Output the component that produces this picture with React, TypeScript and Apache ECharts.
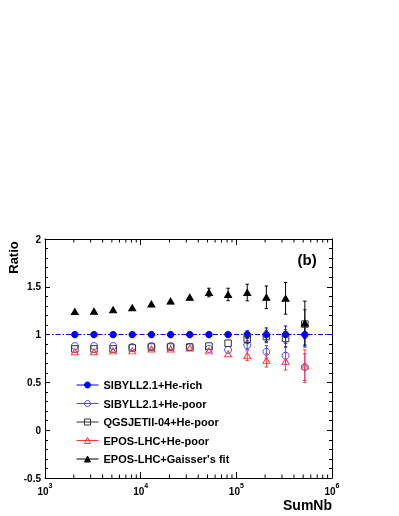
import React, { useEffect, useRef } from 'react';
import * as echarts from 'echarts';

// SumNb bin centres
const sumNb = [2050, 3250, 5150, 8170, 12950, 20550, 32600, 51700, 82000, 130000, 206000, 327000, 520000];

const heRich = [1, 1, 1, 1, 1, 1, 1, 1, 1, 1, 1, 1, 1];
const heRichErr = [0.003, 0.003, 0.004, 0.005, 0.006, 0.008, 0.01, 0.015, 0.025, 0.04, 0.07, 0.09, 0.13];

const hePoor = [0.88, 0.88, 0.88, 0.87, 0.88, 0.88, 0.87, 0.85, 0.84, 0.89, 0.82, 0.78, 0.66];
const hePoorErr = [0.004, 0.004, 0.005, 0.006, 0.007, 0.009, 0.012, 0.018, 0.03, 0.045, 0.065, 0.09, 0.14];

const qgsPoor = [0.85, 0.85, 0.85, 0.86, 0.87, 0.87, 0.87, 0.88, 0.91, 0.95, 0.98, 0.96, 1.11];
const qgsPoorErr = [0.004, 0.004, 0.005, 0.006, 0.007, 0.009, 0.012, 0.018, 0.03, 0.045, 0.065, 0.09, 0.15];

const eposPoor = [0.82, 0.82, 0.83, 0.83, 0.85, 0.85, 0.86, 0.83, 0.8, 0.78, 0.73, 0.72, 0.67];
const eposPoorErr = [0.004, 0.004, 0.005, 0.006, 0.007, 0.009, 0.012, 0.018, 0.03, 0.05, 0.07, 0.09, 0.17];

const gaisser = [1.24, 1.245, 1.26, 1.28, 1.32, 1.35, 1.39, 1.44, 1.42, 1.44, 1.39, 1.38, 1.12];
const gaisserErr = [0.006, 0.006, 0.008, 0.01, 0.012, 0.015, 0.02, 0.045, 0.065, 0.087, 0.118, 0.166, 0.23];

const seriesNames = [
  'SIBYLL2.1+He-rich',
  'SIBYLL2.1+He-poor',
  'QGSJETII-04+He-poor',
  'EPOS-LHC+He-poor',
  "EPOS-LHC+Gaisser's fit",
];

const xMinorTicks = [
  2000, 3000, 4000, 5000, 6000, 7000, 8000, 9000,
  20000, 30000, 40000, 50000, 60000, 70000, 80000, 90000,
  200000, 300000, 400000, 500000, 600000, 700000, 800000, 900000,
];

const FONT = 'Liberation Sans, Arial, Helvetica, sans-serif';

function errSeries(vals: number[], errs: number[], color: string) {
  return {
    type: 'custom',
    xAxisIndex: 0,
    yAxisIndex: 0,
    silent: true,
    z: 2,
    encode: { x: 0, y: 1 },
    data: sumNb.map((x, i) => [x, vals[i], errs[i]]),
    renderItem: (params: any, api: any) => {
      const x = api.value(0);
      const y = api.value(1);
      const e = api.value(2);
      const t = api.coord([x, y + e]);
      const b = api.coord([x, y - e]);
      if (Math.abs(b[1] - t[1]) < 7) return null;
      const cap = 1.7;
      const st = { stroke: color, lineWidth: 1 };
      return {
        type: 'group',
        children: [
          { type: 'line', shape: { x1: t[0], y1: t[1], x2: b[0], y2: b[1] }, style: st },
          { type: 'line', shape: { x1: t[0] - cap, y1: t[1], x2: t[0] + cap, y2: t[1] }, style: st },
          { type: 'line', shape: { x1: b[0] - cap, y1: b[1], x2: b[0] + cap, y2: b[1] }, style: st },
        ],
      };
    },
  };
}

function markSeries(name: string, vals: number[], symbol: string, size: any, fill: string, stroke: string, extra: any = {}) {
  return {
    type: 'line',
    name,
    data: sumNb.map((x, i) => [x, vals[i]]),
    symbol,
    symbolSize: size,
    showSymbol: true,
    showAllSymbol: true,
    lineStyle: { color: stroke, width: 1, opacity: 0 },
    itemStyle: { color: fill, borderColor: stroke, borderWidth: 1 },
    emphasis: { disabled: true },
    z: 3,
    ...extra,
  };
}

export default function App() {
  const ref = useRef<HTMLDivElement>(null);
  useEffect(() => {
    const chart = echarts.init(ref.current!, null, { renderer: 'svg' });
    const axisLineStyle = { color: '#000', width: 1 };
    const xAxisBase = {
      type: 'log',
      logBase: 10,
      min: 1000,
      max: 1000000,
      splitNumber: 3,
      splitLine: { show: false },
      axisLine: { show: true, onZero: false, lineStyle: axisLineStyle },
      axisTick: { show: true, inside: true, length: 6, lineStyle: axisLineStyle },
    };
    const yAxisBase = {
      type: 'value',
      min: -0.5,
      max: 2,
      interval: 0.5,
      splitLine: { show: false },
      axisLine: { show: true, onZero: false, lineStyle: axisLineStyle },
      axisTick: { show: true, inside: true, length: 5, lineStyle: axisLineStyle },
      minorTick: { show: true, splitNumber: 5, length: 3, lineStyle: axisLineStyle },
    };
    const option: any = {
      animation: false,
      textStyle: { fontFamily: FONT },
      grid: { left: 45, right: 67, top: 239, bottom: 38, containLabel: false },
      xAxis: [
        {
          ...xAxisBase,
          position: 'bottom',
          axisLabel: {
            show: true,
            margin: 4,
            showMinLabel: true,
            showMaxLabel: true,
            formatter: (v: number) => '{b|10}{s|' + Math.round(Math.log10(v)) + '}',
            rich: {
              b: { fontSize: 10, fontWeight: 'bold', color: '#000', fontFamily: FONT, lineHeight: 14, verticalAlign: 'bottom' },
              s: { fontSize: 7, fontWeight: 'bold', color: '#000', fontFamily: FONT, lineHeight: 8, verticalAlign: 'top' },
            },
          },
        },
        { ...xAxisBase, position: 'top', axisLabel: { show: false } },
      ],
      yAxis: [
        {
          ...yAxisBase,
          position: 'left',
          axisLabel: { show: true, margin: 4, fontSize: 10, fontWeight: 'bold', color: '#000', fontFamily: FONT },
        },
        { ...yAxisBase, position: 'right', axisLabel: { show: false } },
      ],
      legend: {
        orient: 'vertical',
        left: 71,
        top: 374.5,
        itemWidth: 22,
        itemHeight: 7.5,
        itemGap: 7.5,
        selectedMode: false,
        data: seriesNames,
        textStyle: { fontFamily: FONT, fontWeight: 'bold', fontSize: 11, color: '#000' },
        lineStyle: { width: 1, opacity: 1 },
        itemStyle: { borderWidth: 1 },
      },
      graphic: [
        {
          type: 'text', x: 13.5, y: 257.5, rotation: Math.PI / 2,
          style: { text: 'Ratio', font: 'bold 13px ' + FONT, fill: '#000', textAlign: 'center', textVerticalAlign: 'middle' },
        },
        {
          type: 'text', x: 332, y: 505,
          style: { text: 'SumNb', font: 'bold 14px ' + FONT, fill: '#000', textAlign: 'right', textVerticalAlign: 'middle' },
        },
        {
          type: 'text', x: 297.5, y: 259,
          style: { text: '(b)', font: 'bold 15px ' + FONT, fill: '#000', textAlign: 'left', textVerticalAlign: 'middle' },
        },
      ],
      series: [
        {
          type: 'custom',
          xAxisIndex: 0,
          yAxisIndex: 0,
          silent: true,
          z: 1,
          encode: { x: 0, y: 1 },
          data: xMinorTicks.map((v) => [v, -0.5]),
          renderItem: (params: any, api: any) => {
            const v = api.value(0);
            const b = api.coord([v, -0.5]);
            const t = api.coord([v, 2]);
            const st = { stroke: '#000', lineWidth: 1 };
            return {
              type: 'group',
              children: [
                { type: 'line', shape: { x1: b[0], y1: b[1], x2: b[0], y2: b[1] - 3.5 }, style: st },
                { type: 'line', shape: { x1: t[0], y1: t[1], x2: t[0], y2: t[1] + 3.5 }, style: st },
              ],
            };
          },
        },
        errSeries(heRich, heRichErr, '#0000ff'),
        errSeries(hePoor, hePoorErr, '#4a4aff'),
        errSeries(qgsPoor, qgsPoorErr, '#333333'),
        errSeries(eposPoor, eposPoorErr, '#ff3b3b'),
        errSeries(gaisser, gaisserErr, '#000000'),
        markSeries(seriesNames[0], heRich, 'circle', 6.5, '#0000ff', '#0000ff', {
          markLine: {
            silent: true,
            symbol: ['none', 'none'],
            label: { show: false },
            emphasis: { disabled: true },
            lineStyle: { color: '#0000ff', width: 1, type: [5, 2, 1.5, 2] },
            data: [{ yAxis: 1 }],
          },
        }),
        markSeries(seriesNames[1], hePoor, 'circle', 7, 'rgba(0,0,0,0)', '#4a4aff'),
        markSeries(seriesNames[2], qgsPoor, 'rect', 6.5, 'rgba(0,0,0,0)', '#333333'),
        markSeries(seriesNames[3], eposPoor, 'triangle', [7, 6], 'rgba(0,0,0,0)', '#ff3b3b'),
        markSeries(seriesNames[4], gaisser, 'triangle', [7, 6], '#000000', '#000000'),
      ],
    };
    chart.setOption(option);
    return () => chart.dispose();
  }, []);
  return <div ref={ref} style={{ position: 'fixed', left: 0, top: 0, width: 399, height: 516 }} />;
}
